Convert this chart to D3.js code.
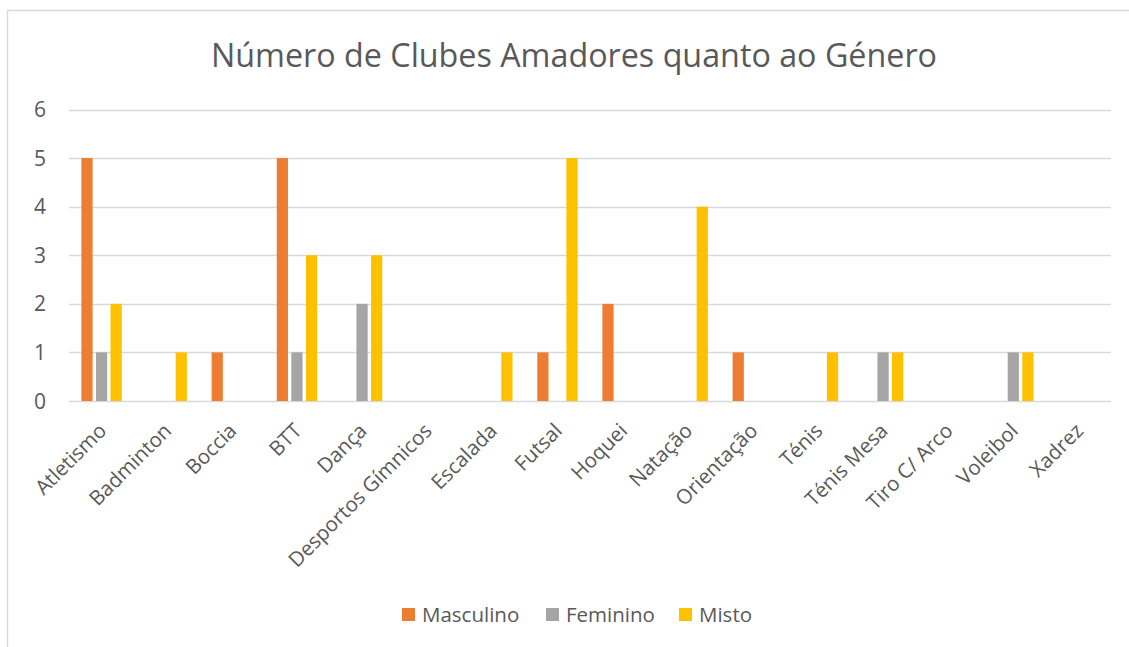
<!DOCTYPE html>
<html>
<head>
<meta charset="utf-8">
<script src="https://cdn.jsdelivr.net/npm/d3@7"></script>
<style>
  body { margin: 0; background: #fff; }
  text { font-family: "Open Sans", sans-serif; fill: #595959; }
</style>
</head>
<body>
<div id="chart"></div>
<script>

WIDTH = 1129;
HEIGHT = 647;

// data

var categories = ["Atletismo", "Badminton", "Boccia", "BTT", "Dança", "Desportos Gímnicos",
                  "Escalada", "Futsal", "Hoquei", "Natação", "Orientação", "Ténis",
                  "Ténis Mesa", "Tiro C/ Arco", "Voleibol", "Xadrez"];

var series = ["Masculino", "Feminino", "Misto"];

var masculino = [5, 0, 1, 5, 0, 0, 0, 1, 2, 0, 1, 0, 0, 0, 0, 0];
var feminino  = [1, 0, 0, 1, 2, 0, 0, 0, 0, 0, 0, 0, 1, 0, 1, 0];
var misto     = [2, 1, 0, 3, 3, 0, 1, 5, 0, 4, 0, 1, 1, 0, 1, 0];

var y_ticks = [0, 1, 2, 3, 4, 5, 6];

var colours = ["#ED7D31", "#A5A5A5", "#FFC000"];

var title = "Número de Clubes Amadores quanto ao Género";


var values = [masculino, feminino, misto];

var rows = categories.map(function (c, i) {
    return { cat: c, vals: series.map(function (s, j) { return { key: s, v: values[j][i] }; }) };
});

var M = { left: 69, right: 1111, top: 109.5, bottom: 401 };

var svg = d3.select("#chart").append("svg")
    .attr("width", WIDTH)
    .attr("height", HEIGHT);

svg.append("rect")
    .attr("x", 7.5).attr("y", 10.5)
    .attr("width", WIDTH + 10).attr("height", HEIGHT + 10)
    .attr("fill", "white")
    .attr("stroke", "#D9D9D9")
    .attr("stroke-width", 1.5);

var x = d3.scaleBand()
    .domain(categories)
    .range([M.left, M.right])
    .paddingInner(0)
    .paddingOuter(0);

var y = d3.scaleLinear()
    .domain([0, 6])
    .range([M.bottom, M.top]);

// bars: 3 per group, group width ~40 of a 65 step
var x1 = d3.scaleBand()
    .domain(series)
    .range([0, x.bandwidth() * 0.62])
    .paddingInner(0.23);

var groupOffset = (x.bandwidth() - x.bandwidth() * 0.62) / 2;

// gridlines
svg.append("g")
    .selectAll("line")
    .data(y_ticks)
    .enter()
    .append("line")
    .attr("x1", M.left)
    .attr("x2", M.right)
    .attr("y1", function (d) { return Math.round(y(d)) + 0.5; })
    .attr("y2", function (d) { return Math.round(y(d)) + 0.5; })
    .attr("stroke", "#D9D9D9")
    .attr("stroke-width", 1.5);

// y labels
svg.append("g")
    .selectAll("text")
    .data(y_ticks)
    .enter()
    .append("text")
    .attr("x", 46)
    .attr("y", function (d) { return y(d); })
    .attr("dy", "0.36em")
    .attr("text-anchor", "end")
    .style("font-size", "21px")
    .text(function (d) { return d; });

// bars
var groups = svg.append("g")
    .selectAll("g")
    .data(rows)
    .enter()
    .append("g")
    .attr("transform", function (d) { return "translate(" + (x(d.cat) + groupOffset) + ",0)"; });

groups.selectAll("rect")
    .data(function (d) { return d.vals.filter(function (e) { return e.v > 0; }); })
    .enter()
    .append("rect")
    .attr("x", function (d) { return x1(d.key); })
    .attr("width", x1.bandwidth())
    .attr("y", function (d) { return y(d.v); })
    .attr("height", function (d) { return y(0) - y(d.v); })
    .attr("fill", function (d) { return colours[series.indexOf(d.key)]; });

// category labels
svg.append("g")
    .selectAll("text")
    .data(categories)
    .enter()
    .append("text")
    .attr("transform", function (d) {
        return "translate(" + (x(d) + x.bandwidth() / 2 + 1) + ",427) rotate(-45)";
    })
    .attr("text-anchor", "end")
    .attr("dy", "0.35em")
    .style("font-size", "20.5px")
    .text(function (d) { return d; });

// title, kept to the width it has in the picture
var t = svg.append("text")
    .attr("x", 574)
    .attr("y", 67)
    .attr("text-anchor", "middle")
    .style("font-size", "32.5px")
    .text(title);
var tw = t.node().getComputedTextLength();
if (tw > 726) t.attr("textLength", 726).attr("lengthAdjust", "spacingAndGlyphs");

// legend
var legendX = [402, 546, 679];

var legend = svg.append("g")
    .selectAll("g")
    .data(series)
    .enter()
    .append("g")
    .attr("transform", function (d, i) { return "translate(" + legendX[i] + ",608)"; });

legend.append("rect")
    .attr("width", 13)
    .attr("height", 13)
    .attr("fill", function (d, i) { return colours[i]; });

legend.append("text")
    .attr("x", 20)
    .attr("y", 6.5)
    .attr("dy", "0.36em")
    .style("font-size", "20.5px")
    .text(function (d) { return d; });

</script>
</body>
</html>
